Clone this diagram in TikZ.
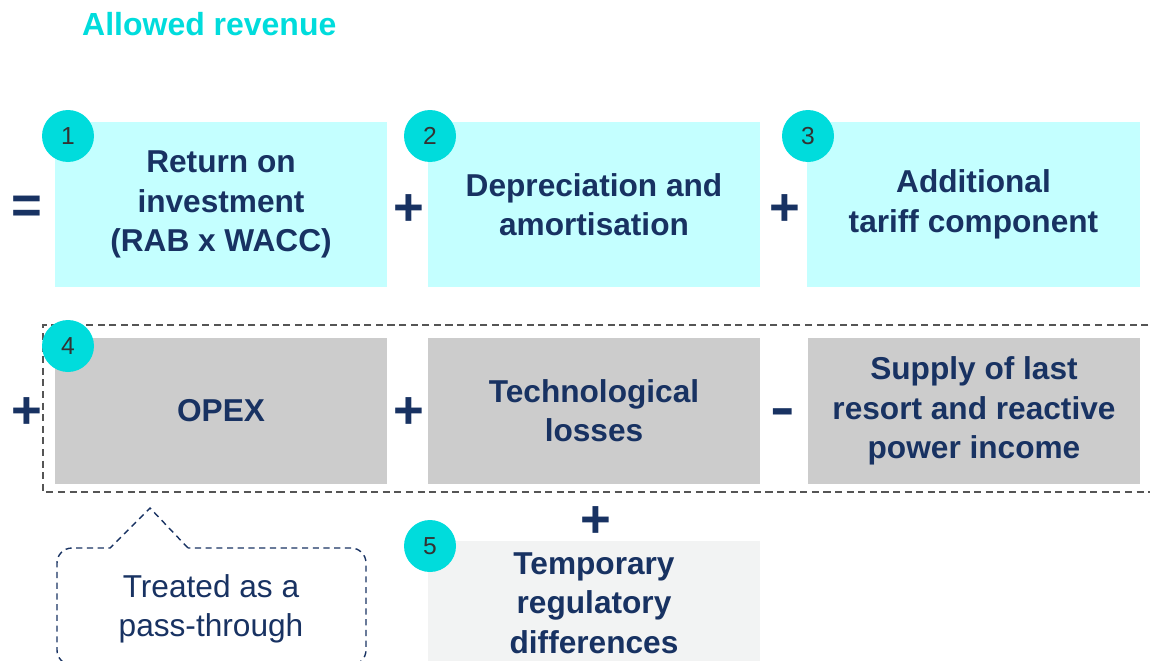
\documentclass[tikz,border=0pt]{standalone}
\usepackage{fontspec}
\setmainfont{Liberation Sans}
\usetikzlibrary{positioning}
\definecolor{navy}{RGB}{24,50,98}
\definecolor{tealdot}{RGB}{0,220,220}
\definecolor{paleteal}{RGB}{196,255,255}
\definecolor{boxgrey}{RGB}{204,204,204}
\definecolor{palegrey}{RGB}{242,243,243}
\definecolor{dashgrey}{RGB}{85,85,85}

\begin{document}
\begin{tikzpicture}[font=\small,
    term/.style={minimum width=6.64cm, inner sep=0pt, align=center, text=navy,
      font=\fontsize{18}{22.4}\selectfont\bfseries},
    badge/.style={circle, fill=tealdot, minimum size=1.04cm, inner sep=0pt,
      text=black!80, font=\fontsize{14}{14}\selectfont},
    oper/.style={text=navy, inner sep=0pt, font=\fontsize{30}{30}\selectfont\bfseries}]
    \useasboundingbox (0,0) rectangle (23,-13.22);
    \clip (0,0) rectangle (23,-13.22);
    \node[anchor=west, text=tealdot, font=\fontsize{18.2}{21}\selectfont\bfseries]
      (title) at (1.52,-0.48) {Allowed revenue};
    % first row
    \node[term, fill=paleteal, minimum height=3.3cm] (ret) at (4.42,-4.09)
      {Return on\\investment\\(RAB x WACC)};
    \node[term, fill=paleteal, minimum height=3.3cm] (depr) at (11.88,-4.09)
      {Depreciation and\\amortisation};
    \node[term, fill=paleteal, minimum height=3.3cm, minimum width=6.66cm] (tariff) at (19.47,-4.09)
      {Additional\\tariff component};
    % second row, pass-through items
    \draw[dashgrey, line width=0.8pt, dash pattern=on 4pt off 2.6pt]
      (23.2,-6.5) -- (0.86,-6.5) -- (0.86,-9.84) -- (23.2,-9.84);
    \node[term, fill=boxgrey, minimum height=2.92cm] (opex) at (4.42,-8.22) {OPEX};
    \node[term, fill=boxgrey, minimum height=2.92cm] (losses) at (11.88,-8.22)
      {Technological\\losses};
    \node[term, fill=boxgrey, minimum height=2.92cm] (supply) at (19.48,-8.22)
      {Supply of last\\resort and reactive\\power income};
    % third row
    \node[term, fill=palegrey, minimum height=2.48cm] (temp) at (11.88,-12.06)
      {Temporary\\regulatory\\differences};
    % numbers
    \node[badge] (b1) at (1.36,-2.72) {1};
    \node[badge] (b2) at (8.6,-2.72) {2};
    \node[badge] (b3) at (16.16,-2.72) {3};
    \node[badge] (b4) at (1.36,-6.92) {4};
    \node[badge] (b5) at (8.6,-10.92) {5};
    % operators
    \node[oper] (eq) at (0.54,-4.2) {=};
    \node[oper] (p1) at (8.18,-4.2) {+};
    \node[oper] (p2) at (15.7,-4.2) {+};
    \node[oper] (p3) at (0.54,-8.26) {+};
    \node[oper] (p4) at (8.18,-8.26) {+};
    \node[oper] (m1) at (15.66,-8.34) {\scalebox{1.4}[1]{-}};
    \node[oper] (p5) at (11.92,-10.44) {+};
    % callout
    \draw[navy, line width=0.8pt, dash pattern=on 3.5pt off 2.6pt]
      (3.76,-10.96) -- (3.0,-10.16) -- (2.2,-10.96)
      [rounded corners=0.3cm] -- (1.14,-10.96) -- (1.14,-13.3) -- (7.32,-13.3)
      -- (7.32,-10.96) -- (3.76,-10.96);
    \node[align=center, text=navy, font=\fontsize{18}{22.4}\selectfont]
      (passnote) at (4.22,-12.18) {Treated as a\\pass-through};
  \end{tikzpicture}
\end{document}
